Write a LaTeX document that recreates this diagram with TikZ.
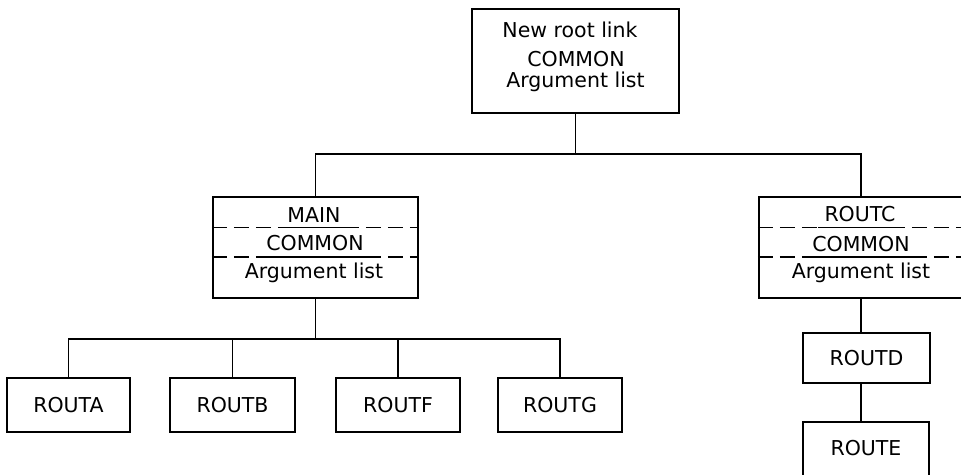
\documentclass[tikz,border=0pt]{standalone}
\usepackage{fontspec}
\setmainfont{DejaVu Sans}
\begin{document}
\begin{tikzpicture}[x=1pt,y=-1pt,
  every node/.style={font=\fontsize{20.5}{24}\selectfont},
  box/.style={draw, line width=2.5pt, inner sep=0pt},
  leaf/.style={box, minimum width=124pt, minimum height=54pt},
  link/.style={line width=1.6pt},
  divider/.style={line width=1.6pt, dash pattern=on 15pt off 7pt},
  uline/.style={line width=1.6pt},
  txt/.style={anchor=base, inner sep=0pt}]
\useasboundingbox (0,0) rectangle (961,474);
\clip (0,0) rectangle (961,474);

% root of the tree
\node[box, minimum width=207pt, minimum height=104pt] (root) at (575.5,61) {};
\node[txt] (root1) at (570,37) {New root link};
\node[txt] (root2) at (576,66) {COMMON};
\node[txt] (root3) at (575.5,87) {Argument list};

% MAIN segment
\node[box, minimum width=205pt, minimum height=101pt] (main) at (315.5,247.5) {};
\node[txt] (main1) at (314,222) {MAIN};
\node[txt] (main2) at (315,250) {COMMON};
\node[txt] (main3) at (314,278) {Argument list};
\coordinate (mdA) at (0,227.5);
\coordinate (mdB) at (0,257);
\draw[divider] (main.west |- mdA) -- (main.east |- mdA);
\draw[divider] (main.west |- mdB) -- (main.east |- mdB);
\draw[uline] (main1.west |- mdA) ++(-7,0) -- ([xshift=7pt]main1.east |- mdA);
\draw[uline] (main2.west |- mdB) ++(-5,0) -- ([xshift=5pt]main2.east |- mdB);

% ROUTC segment
\node[box, minimum width=204pt, minimum height=101pt] (routc) at (861,247.5) {};
\node[txt] (routc1) at (860,221) {ROUTC};
\node[txt] (routc2) at (861,251) {COMMON};
\node[txt] (routc3) at (861,278) {Argument list};
\draw[divider] (routc.west |- mdA) -- (routc.east |- mdA);
\draw[divider] (routc.west |- mdB) -- (routc.east |- mdB);
\draw[uline] (routc1.west |- mdA) ++(-6,0) -- ([xshift=6pt]routc1.east |- mdA);
\draw[uline] (routc2.west |- mdB) ++(-5,0) -- ([xshift=5pt]routc2.east |- mdB);

% leaves under MAIN
\node[leaf, minimum width=123pt] (routa) at (68.5,405) {ROUTA};
\node[leaf, minimum width=125pt] (routb) at (232.5,405) {ROUTB};
\node[leaf] (routf) at (398,405) {ROUTF};
\node[leaf] (routg) at (560,405) {ROUTG};

% chain under ROUTC
\node[box, minimum width=127pt, minimum height=50pt] (routd) at (866.5,358) {ROUTD};
\node[box, minimum width=126pt, minimum height=54pt] (route) at (866,449) {};
\node[anchor=base, inner sep=0pt] (routeT) at (866,455) {ROUTE};

% connectors
\coordinate (barTop) at (0,154);
\coordinate (barMain) at (0,339);
\draw[link] (root.south) -- (root.south |- barTop);
\draw[link] (main.north) -- (main.north |- barTop) -- (routc.north |- barTop) -- (routc.north);
\draw[link] (main.south) -- (main.south |- barMain);
\draw[link] (routa.north) -- (routa.north |- barMain) -- (routg.north |- barMain) -- (routg.north);
\draw[link] (routb.north) -- (routb.north |- barMain);
\draw[link] (routf.north) -- (routf.north |- barMain);
\draw[link] (routc.south) -- (routc.south |- routd.north);
\draw[link] (routc.south |- routd.south) -- (routc.south |- route.north);
\end{tikzpicture}
\end{document}
